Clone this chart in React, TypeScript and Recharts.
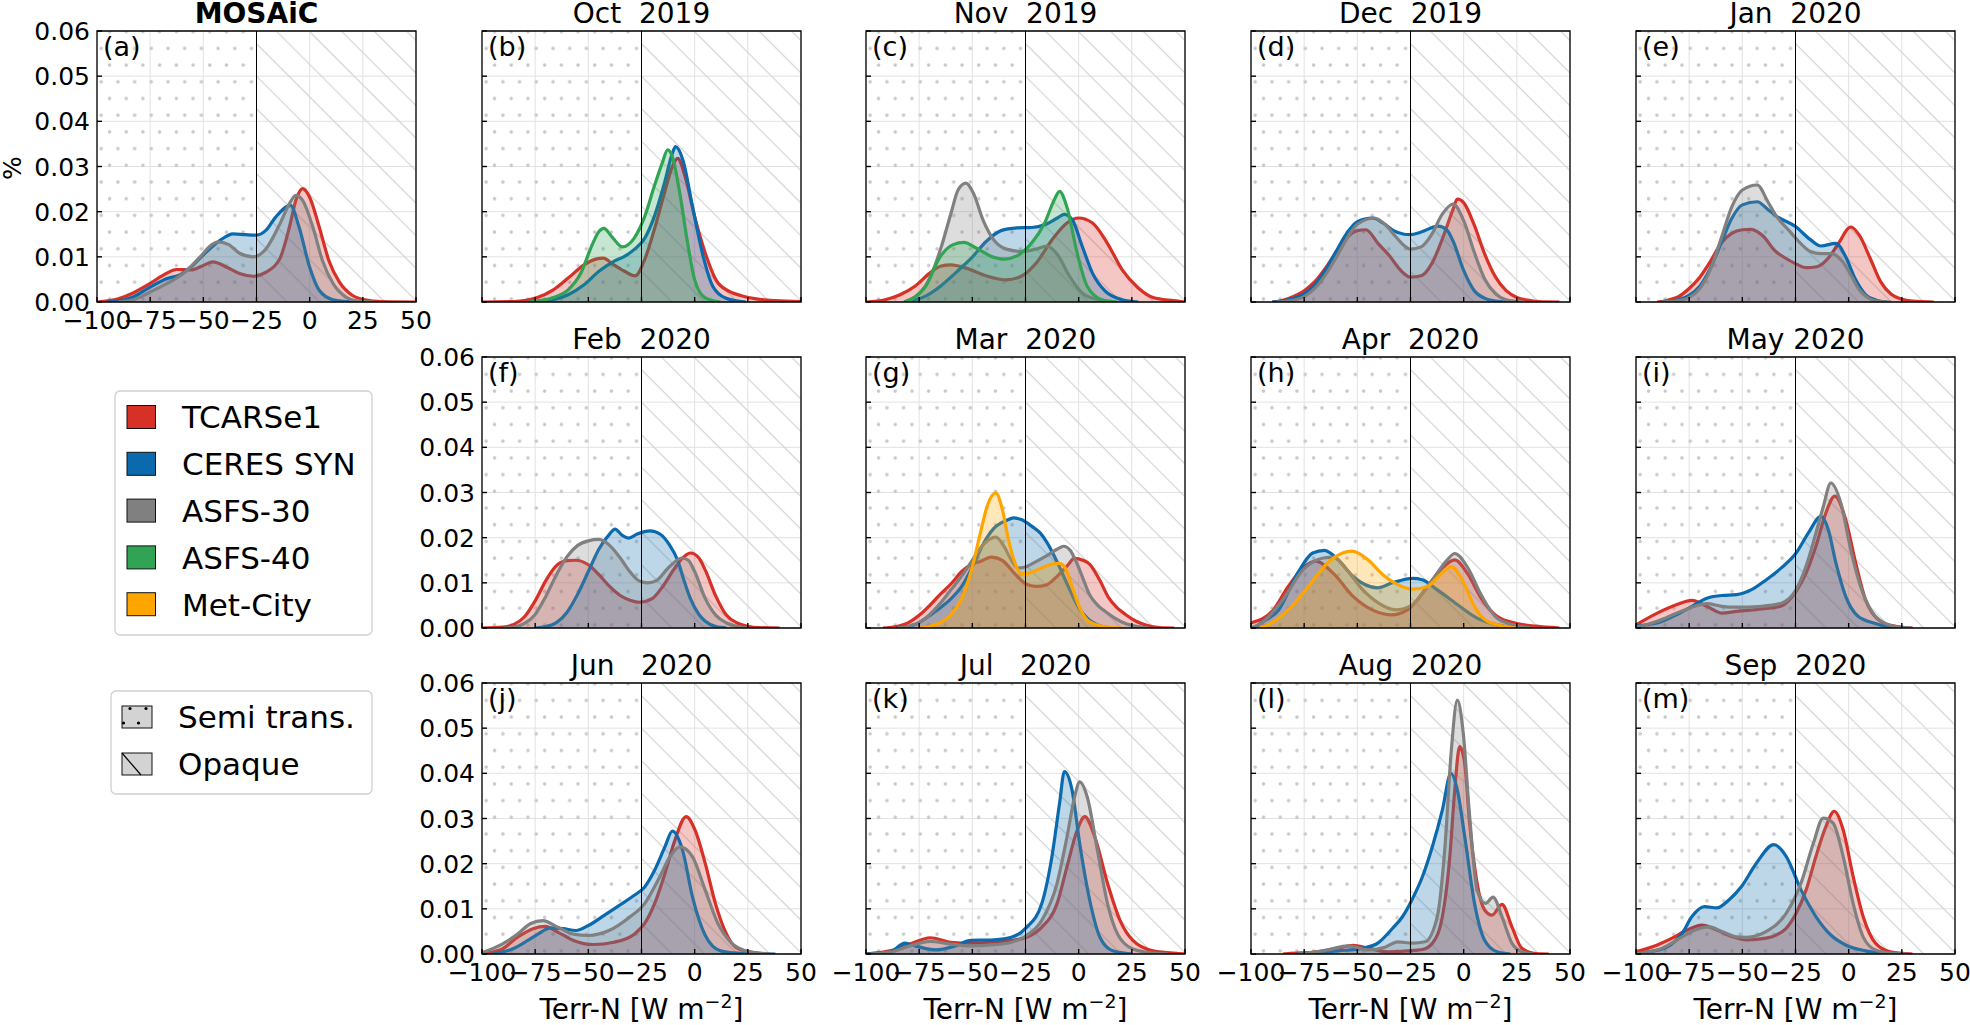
import React from 'react';
import { AreaChart, Area, XAxis, YAxis, CartesianGrid, ReferenceArea, ReferenceLine } from 'recharts';

type Pt = [number, number];

const FONT = "'DejaVu Sans', 'Liberation Sans', sans-serif";

const xTicks = [-100, -75, -50, -25, 0, 25, 50];
const yTicks = [0, 0.01, 0.02, 0.03, 0.04, 0.05, 0.06];

const sourceKeys = ['tcarse1', 'ceres', 'asfs30', 'asfs40', 'metcity'];
const sourceNames = ['TCARSe1', 'CERES SYN', 'ASFS-30', 'ASFS-40', 'Met-City'];
const sourceColors = ['#d73027', '#0a6aad', '#808080', '#31a354', '#ffa500'];
const surfaceNames = ['Semi trans.', 'Opaque'];

const panelLetters = ['a', 'b', 'c', 'd', 'e', 'f', 'g', 'h', 'i', 'j', 'k', 'l', 'm'];
const panelTitles = ['MOSAiC', 'Oct  2019', 'Nov  2019', 'Dec  2019', 'Jan  2020', 'Feb  2020', 'Mar  2020',
  'Apr  2020', 'May 2020', 'Jun   2020', 'Jul   2020', 'Aug  2020', 'Sep  2020'];

// density curves, [Terr-N, density]
const mosaicT: Pt[] = [[-100, 0], [-90, 0.0007], [-83, 0.002], [-75, 0.0041], [-69, 0.0059], [-62.5, 0.0072], [-56, 0.0071], [-50, 0.0081], [-45.5, 0.0089], [-39, 0.0077], [-33, 0.0063], [-26.5, 0.0057], [-20.5, 0.0066], [-14, 0.0096], [-9.5, 0.0166], [-6.5, 0.0225], [-3.3, 0.0251], [0, 0.0232], [4.5, 0.0166], [9, 0.0092], [14, 0.0044], [20, 0.0015], [26, 0.0005], [34, 0.0001], [50, 0]];
const mosaicC: Pt[] = [[-95, 0], [-90, 0.0002], [-83, 0.0011], [-75, 0.0033], [-67, 0.0052], [-61, 0.006], [-55, 0.0081], [-48.5, 0.0111], [-42, 0.0137], [-36, 0.0151], [-30, 0.0149], [-25, 0.0148], [-20.5, 0.0159], [-16, 0.0188], [-9, 0.0214], [-5, 0.0166], [0, 0.0077], [4.5, 0.0026], [11, 0.0005], [18, 0.0001], [25, 0]];
const mosaicA30: Pt[] = [[-90, 0], [-83, 0.0005], [-75, 0.0022], [-67, 0.0041], [-59.5, 0.0063], [-51.5, 0.01], [-46, 0.0127], [-43, 0.0133], [-38, 0.0127], [-33, 0.0108], [-26.5, 0.01], [-20.5, 0.0118], [-14, 0.0173], [-9.5, 0.0218], [-6.5, 0.0236], [-3.3, 0.0225], [1.5, 0.0166], [6, 0.0092], [11, 0.0041], [17, 0.0011], [23, 0.0002], [30, 0]];

const octT: Pt[] = [[-100, 0], [-85, 0.0001], [-74, 0.001], [-66.5, 0.0027], [-59.5, 0.0053], [-52, 0.0082], [-46.5, 0.0095], [-43, 0.0097], [-38, 0.0082], [-33, 0.0068], [-28, 0.0058], [-23.5, 0.0094], [-19, 0.016], [-14, 0.0245], [-10.5, 0.03], [-8, 0.0318], [-4.5, 0.0278], [0, 0.0189], [5, 0.0108], [10, 0.0049], [16, 0.0024], [22, 0.0014], [29, 0.0007], [38, 0.0003], [50, 0.0001]];
const octC: Pt[] = [[-78, 0], [-66.5, 0.0005], [-59.5, 0.0016], [-52, 0.0038], [-45, 0.0068], [-38, 0.009], [-33, 0.0101], [-28.5, 0.0116], [-23.5, 0.0141], [-19, 0.0189], [-14, 0.0267], [-10.5, 0.0329], [-9, 0.0344], [-5.5, 0.0314], [-1, 0.0211], [4, 0.0101], [8.5, 0.0035], [14.5, 0.0009], [24, 0]];
const octA40: Pt[] = [[-78, 0], [-66.5, 0.001], [-59.5, 0.0027], [-53.5, 0.0064], [-48.5, 0.0123], [-45, 0.0156], [-42.7, 0.0163], [-39, 0.0145], [-34, 0.0122], [-28.5, 0.0141], [-23.5, 0.0189], [-19, 0.0256], [-15.3, 0.0307], [-12.7, 0.0337], [-10.5, 0.0322], [-7, 0.0241], [-3.3, 0.013], [0, 0.0049], [5, 0.0009], [12, 0]];

const novT: Pt[] = [[-100, 0], [-91, 0.0005], [-84, 0.0016], [-77, 0.0035], [-70, 0.0064], [-65, 0.0079], [-60, 0.0082], [-53, 0.0075], [-43.5, 0.0058], [-34, 0.0049], [-27, 0.0057], [-20, 0.0086], [-12.5, 0.0138], [-5.5, 0.0175], [0, 0.0186], [6.5, 0.0175], [13.5, 0.013], [20.5, 0.0071], [28, 0.0031], [35, 0.001], [44.5, 0.0003], [50, 0]];
const novC: Pt[] = [[-82, 0], [-72, 0.0013], [-65, 0.0035], [-58, 0.0064], [-50.5, 0.0097], [-43.5, 0.0134], [-36.5, 0.0158], [-29, 0.0164], [-22, 0.0165], [-16, 0.0171], [-10, 0.0186], [-6.7, 0.0194], [-3, 0.0182], [1.7, 0.0123], [6.5, 0.0064], [12.5, 0.0024], [20.5, 0.0005], [28, 0]];
const novA30: Pt[] = [[-82, 0], [-72, 0.0035], [-65, 0.0116], [-60, 0.0197], [-56.7, 0.0248], [-53, 0.0263], [-49.5, 0.0241], [-45, 0.0182], [-40, 0.0138], [-34, 0.0117], [-27, 0.0112], [-20, 0.0117], [-15, 0.0124], [-10, 0.0105], [-4.3, 0.0057], [1.7, 0.002], [9, 0.0005], [15, 0]];
const novA40: Pt[] = [[-82, 0], [-72, 0.0035], [-65, 0.0101], [-59, 0.0127], [-54, 0.0132], [-48, 0.0119], [-41, 0.0101], [-35, 0.0095], [-28, 0.0105], [-22, 0.0131], [-16, 0.0175], [-11.5, 0.0226], [-9, 0.0245], [-5.5, 0.021], [-0.7, 0.0108], [4, 0.0035], [11, 0.0005], [18, 0]];

const decT: Pt[] = [[-90, 0], [-85, 0.0004], [-80, 0.0012], [-75, 0.0025], [-70, 0.0045], [-65, 0.0075], [-60, 0.011], [-55, 0.0142], [-50, 0.0158], [-46, 0.016], [-40, 0.0128], [-35, 0.0103], [-30, 0.0072], [-25, 0.0055], [-20, 0.0058], [-15, 0.0085], [-10, 0.014], [-5, 0.0205], [-3, 0.0228], [0, 0.022], [5, 0.017], [10, 0.0105], [15, 0.0055], [20, 0.0025], [25, 0.001], [30, 0.0004], [35, 0.0001], [45, 0]];
const decC: Pt[] = [[-90, 0], [-85, 0.0002], [-80, 0.0008], [-75, 0.0018], [-70, 0.0038], [-65, 0.007], [-60, 0.0112], [-55, 0.0152], [-50, 0.0178], [-43, 0.0186], [-38, 0.0175], [-33, 0.0158], [-28, 0.015], [-25, 0.0149], [-20, 0.0155], [-12, 0.0168], [-8, 0.016], [-5, 0.0135], [0, 0.007], [5, 0.0025], [10, 0.0008], [15, 0.0002], [20, 0]];
const decA30: Pt[] = [[-88, 0], [-80, 0.0004], [-75, 0.0012], [-70, 0.003], [-65, 0.006], [-60, 0.0098], [-55, 0.014], [-50, 0.0172], [-42, 0.0186], [-37, 0.0172], [-32, 0.0145], [-28, 0.0125], [-25, 0.0117], [-20, 0.0122], [-15, 0.015], [-10, 0.0195], [-5, 0.0217], [0, 0.018], [5, 0.011], [10, 0.005], [15, 0.0018], [20, 0.0005], [28, 0]];

const janT: Pt[] = [[-90, 0], [-85, 0.0004], [-80, 0.0012], [-75, 0.003], [-70, 0.0055], [-65, 0.009], [-60, 0.013], [-55, 0.0152], [-50, 0.016], [-46, 0.0161], [-40, 0.0145], [-35, 0.0115], [-30, 0.0098], [-25, 0.0085], [-20, 0.0076], [-15, 0.0078], [-10, 0.0095], [-5, 0.0128], [1, 0.0166], [5, 0.0148], [10, 0.0098], [15, 0.0045], [20, 0.0017], [25, 0.0006], [30, 0.0002], [40, 0]];
const janC: Pt[] = [[-88, 0], [-80, 0.0005], [-75, 0.0015], [-70, 0.0035], [-65, 0.0075], [-60, 0.013], [-55, 0.0185], [-50, 0.0215], [-43, 0.0222], [-38, 0.0205], [-34, 0.019], [-25, 0.0167], [-18, 0.0138], [-13, 0.0124], [-6, 0.013], [-1.5, 0.0101], [3, 0.0052], [8, 0.0016], [13, 0.0004], [18, 0]];
const janA30: Pt[] = [[-88, 0], [-80, 0.0003], [-75, 0.001], [-70, 0.003], [-65, 0.0072], [-60, 0.014], [-55, 0.021], [-50, 0.0248], [-43, 0.0259], [-38, 0.0222], [-34, 0.019], [-28, 0.0158], [-25, 0.0142], [-18, 0.0112], [-13, 0.0107], [-8, 0.0107], [-3, 0.009], [1, 0.006], [5, 0.0027], [10, 0.0007], [15, 0.0001], [20, 0]];

const febT: Pt[] = [[-100, 0], [-90, 0.0002], [-85, 0.0008], [-80, 0.0025], [-75, 0.006], [-70, 0.0105], [-65, 0.0138], [-60, 0.0149], [-56, 0.015], [-50, 0.014], [-45, 0.0118], [-40, 0.0092], [-35, 0.0072], [-30, 0.0061], [-26, 0.0057], [-20, 0.0065], [-15, 0.0092], [-10, 0.0128], [-5, 0.0158], [-2, 0.0166], [2, 0.0155], [5, 0.0128], [10, 0.007], [15, 0.0028], [20, 0.0011], [25, 0.0004], [30, 0.0001], [40, 0]];
const febC: Pt[] = [[-75, 0], [-70, 0.0003], [-65, 0.0012], [-60, 0.0035], [-55, 0.0075], [-50, 0.0125], [-45, 0.0175], [-40, 0.0208], [-37.5, 0.0219], [-34, 0.0205], [-31, 0.0199], [-27, 0.0208], [-21, 0.0215], [-16, 0.0207], [-12, 0.0185], [-8, 0.015], [-5, 0.0105], [-2, 0.0065], [2, 0.003], [5, 0.0015], [10, 0.0003], [15, 0]];
const febA30: Pt[] = [[-90, 0], [-85, 0.0002], [-80, 0.001], [-75, 0.003], [-70, 0.007], [-65, 0.0118], [-60, 0.0158], [-55, 0.0183], [-50, 0.0193], [-45, 0.0196], [-40, 0.0183], [-35, 0.0155], [-30, 0.0122], [-26, 0.0104], [-22, 0.01], [-18, 0.0105], [-12, 0.0135], [-6, 0.0155], [-3, 0.015], [0, 0.0125], [5, 0.0065], [10, 0.0028], [15, 0.0011], [20, 0.0003], [25, 0]];

const marT: Pt[] = [[-92, 0], [-85, 0.0004], [-80, 0.0012], [-75, 0.0028], [-70, 0.005], [-65, 0.0075], [-60, 0.0098], [-55, 0.0125], [-50, 0.0142], [-46, 0.0148], [-41, 0.0157], [-36, 0.015], [-30, 0.012], [-25, 0.0098], [-20, 0.0092], [-15, 0.0096], [-10, 0.0115], [-5, 0.014], [-2, 0.0154], [2, 0.015], [5, 0.0142], [10, 0.0105], [14, 0.0068], [18, 0.0045], [22, 0.003], [27, 0.0015], [32, 0.0006], [38, 0.0001], [45, 0]];
const marC: Pt[] = [[-85, 0], [-80, 0.0003], [-75, 0.0012], [-70, 0.0028], [-65, 0.0045], [-60, 0.0065], [-55, 0.0092], [-50, 0.0135], [-45, 0.0185], [-40, 0.022], [-34, 0.0238], [-30.5, 0.0244], [-27, 0.024], [-22, 0.0225], [-18, 0.021], [-15, 0.019], [-10, 0.0145], [-5, 0.0093], [0, 0.0045], [4, 0.0022], [10, 0.0005], [15, 0]];
const marA30: Pt[] = [[-85, 0], [-80, 0.0004], [-75, 0.0012], [-70, 0.003], [-65, 0.0055], [-60, 0.0085], [-55, 0.0115], [-50, 0.015], [-46, 0.0178], [-42, 0.0196], [-39, 0.0201], [-35, 0.018], [-32, 0.0153], [-28.5, 0.0133], [-25, 0.0135], [-22, 0.0142], [-15, 0.016], [-10, 0.0175], [-7, 0.0181], [-4, 0.0172], [-1, 0.0145], [2, 0.011], [5, 0.0075], [9, 0.005], [13, 0.0035], [17, 0.0022], [22, 0.001], [28, 0.0003], [33, 0]];
const marMet: Pt[] = [[-75, 0], [-70, 0.0004], [-65, 0.0012], [-60, 0.003], [-55, 0.0065], [-50, 0.0135], [-46, 0.0215], [-43, 0.027], [-39, 0.0299], [-36, 0.0265], [-33, 0.0195], [-30, 0.0145], [-27, 0.012], [-23, 0.0122], [-18, 0.0132], [-12, 0.0142], [-9, 0.0143], [-6, 0.013], [-3, 0.009], [0, 0.005], [4, 0.0018], [10, 0.0005], [15, 0.0001], [20, 0]];

const aprT: Pt[] = [[-100, 0.0011], [-89.5, 0.004], [-82.5, 0.0092], [-75.5, 0.0133], [-69.5, 0.0148], [-61.5, 0.0122], [-52, 0.007], [-43, 0.004], [-34, 0.0029], [-26.5, 0.004], [-17, 0.0092], [-10, 0.0133], [-4.2, 0.0151], [1.6, 0.0122], [8.6, 0.0063], [15.7, 0.0026], [25, 0.001], [34, 0.0004], [45, 0]];
const aprC: Pt[] = [[-98, 0], [-96.5, 0.0007], [-87, 0.004], [-78, 0.0122], [-71, 0.0166], [-65.5, 0.0172], [-59, 0.0151], [-52, 0.0114], [-40.5, 0.0089], [-33.5, 0.01], [-24, 0.011], [-19.5, 0.0107], [-12.5, 0.0085], [-3, 0.0052], [6.3, 0.0022], [15.7, 0.0007], [25, 0]];
const aprA30: Pt[] = [[-100, 0], [-94, 0.0015], [-85, 0.0063], [-75.5, 0.0129], [-66, 0.0155], [-61, 0.0157], [-56, 0.0135], [-47.5, 0.0085], [-40, 0.0055], [-32, 0.004], [-24, 0.0052], [-14.7, 0.0107], [-7.7, 0.0151], [-4.2, 0.0165], [1.6, 0.0136], [8.6, 0.007], [15.7, 0.0022], [25, 0.0005], [32, 0]];
const aprMet: Pt[] = [[-96, 0], [-92, 0.0007], [-82.5, 0.004], [-73, 0.0092], [-64, 0.0144], [-57, 0.0166], [-52.5, 0.017], [-45, 0.0151], [-38, 0.0118], [-31, 0.0096], [-24, 0.0086], [-17, 0.0092], [-11, 0.0118], [-5.8, 0.0136], [-0.7, 0.0107], [5, 0.0048], [11, 0.0015], [18, 0.0005], [25, 0]];

const mayT: Pt[] = [[-100, 0.0007], [-90, 0.0033], [-80.7, 0.0052], [-73.7, 0.0061], [-66.7, 0.0048], [-59.7, 0.0033], [-52.7, 0.0037], [-41, 0.0042], [-31.7, 0.0049], [-24.7, 0.0081], [-20, 0.0122], [-15.4, 0.0181], [-10.7, 0.0255], [-6.5, 0.0292], [-1.4, 0.024], [3.3, 0.0144], [7.9, 0.0063], [14.9, 0.0015], [22, 0.0004], [30, 0]];
const mayC: Pt[] = [[-100, 0.0005], [-90, 0.0011], [-80.7, 0.003], [-73.7, 0.0048], [-66.7, 0.0066], [-59.7, 0.0072], [-52.7, 0.0074], [-45.7, 0.0085], [-38.7, 0.0107], [-31.7, 0.0133], [-24.7, 0.0166], [-19, 0.021], [-13, 0.0247], [-9.6, 0.0218], [-6, 0.0144], [-1.4, 0.007], [4.4, 0.0026], [12.6, 0.001], [18, 0.0003], [25, 0]];
const mayA30: Pt[] = [[-100, 0.0002], [-90, 0.0015], [-80.7, 0.0033], [-73.7, 0.0046], [-66.7, 0.0054], [-59.7, 0.0048], [-52.7, 0.0046], [-41, 0.0048], [-31.7, 0.0055], [-24.7, 0.0085], [-20, 0.0137], [-15.4, 0.021], [-11.9, 0.0269], [-8.4, 0.0321], [-3.7, 0.0277], [1, 0.0173], [5.6, 0.0092], [11.4, 0.0033], [17.2, 0.001], [24, 0.0002], [30, 0]];

const junT: Pt[] = [[-100, 0], [-97.5, 0.0002], [-90.5, 0.0011], [-83.3, 0.0037], [-76, 0.0056], [-70.2, 0.0061], [-64.2, 0.0048], [-57, 0.003], [-47.5, 0.0021], [-38, 0.0026], [-28.4, 0.0044], [-23.6, 0.0067], [-18.9, 0.0111], [-14, 0.0178], [-9.3, 0.0252], [-4, 0.0304], [0.2, 0.0274], [5, 0.02], [9.8, 0.0111], [14.6, 0.0048], [19.3, 0.0015], [26.5, 0.0004], [35, 0]];
const junC: Pt[] = [[-95, 0], [-92.8, 0.0002], [-85.7, 0.0011], [-78.5, 0.003], [-73.7, 0.0044], [-67.8, 0.0058], [-61.8, 0.0056], [-55.8, 0.0052], [-50, 0.0063], [-42.7, 0.0085], [-35.6, 0.0107], [-28.4, 0.013], [-23.6, 0.0148], [-18.9, 0.0185], [-14, 0.0237], [-10.5, 0.0272], [-5.7, 0.023], [-1, 0.0126], [5, 0.0041], [12.2, 0.0007], [20, 0.0002], [38, 0]];
const junA30: Pt[] = [[-100, 0.0003], [-90.5, 0.0022], [-83.3, 0.0044], [-77.3, 0.0067], [-71.4, 0.0074], [-64.2, 0.0059], [-57, 0.0044], [-50, 0.0041], [-40.3, 0.0052], [-30.8, 0.0081], [-23.6, 0.0111], [-16.5, 0.017], [-11.7, 0.0215], [-6.9, 0.0237], [-1, 0.0215], [5, 0.0141], [11, 0.0067], [17, 0.0026], [24, 0.0007], [30, 0.0002], [35, 0]];

const julT: Pt[] = [[-100, 0], [-98, 0.0001], [-88.8, 0.0007], [-79.3, 0.0022], [-69.8, 0.0036], [-60.2, 0.0026], [-50.7, 0.0024], [-41.2, 0.0026], [-31.7, 0.003], [-24.5, 0.0037], [-17.4, 0.0059], [-10.2, 0.0111], [-5.5, 0.0193], [-0.7, 0.0274], [2.9, 0.0304], [7.6, 0.0259], [13.6, 0.0156], [19.5, 0.0074], [25.5, 0.003], [35, 0.0007], [47, 0.0001], [50, 0]];
const julC: Pt[] = [[-100, 0], [-88.8, 0.0004], [-81.7, 0.0024], [-76.9, 0.0018], [-67.4, 0.0009], [-57.9, 0.0018], [-50.7, 0.003], [-41.2, 0.0031], [-31.7, 0.0037], [-24.5, 0.0059], [-17.4, 0.0111], [-12.6, 0.0215], [-9, 0.0333], [-6.7, 0.0404], [-3.1, 0.0363], [0.5, 0.0244], [5.2, 0.0119], [10, 0.0037], [16, 0.0007], [25, 0]];
const julA30: Pt[] = [[-98, 0], [-88.8, 0.0004], [-79.3, 0.0018], [-69.8, 0.0028], [-60.2, 0.0022], [-50.7, 0.0018], [-41.2, 0.002], [-31.7, 0.0026], [-24.5, 0.0041], [-17.4, 0.0074], [-10.2, 0.0156], [-5.5, 0.0259], [-1.9, 0.0348], [0.5, 0.0381], [4, 0.0348], [8.8, 0.023], [13.6, 0.0111], [18.3, 0.0044], [25.5, 0.0011], [35, 0.0002], [42, 0]];

const augT: Pt[] = [[-85, 0], [-82.5, 0.0001], [-68.5, 0.0005], [-59, 0.0013], [-52, 0.0019], [-45, 0.0013], [-35.7, 0.0005], [-26.4, 0.0007], [-19.4, 0.001], [-14.7, 0.0024], [-10, 0.0083], [-6.5, 0.0216], [-4.2, 0.0363], [-1.9, 0.0459], [0.5, 0.0422], [2.8, 0.029], [6.3, 0.0157], [9.8, 0.0098], [13.3, 0.0086], [18, 0.011], [22.7, 0.006], [27.3, 0.0013], [34, 0.0001], [40, 0]];
const augC: Pt[] = [[-78, 0], [-75.5, 0.0001], [-59, 0.0007], [-47.4, 0.0013], [-40.4, 0.0024], [-33.4, 0.0057], [-28.7, 0.0083], [-24, 0.0123], [-19.4, 0.0171], [-14.7, 0.0238], [-10, 0.0319], [-6, 0.04], [-3, 0.0364], [0.5, 0.026], [5.1, 0.0112], [9.8, 0.0031], [15.7, 0.0005], [22, 0]];
const augA30: Pt[] = [[-78, 0], [-75.5, 0.0001], [-63.8, 0.0009], [-54.4, 0.0018], [-45, 0.0009], [-37, 0.0015], [-31, 0.0027], [-24, 0.0024], [-18.2, 0.0027], [-12.4, 0.0083], [-8.9, 0.0231], [-5.8, 0.0451], [-3, 0.0562], [-0.2, 0.0489], [2.8, 0.0305], [6.3, 0.0142], [10.3, 0.0112], [13.8, 0.0126], [18, 0.0083], [22.7, 0.0024], [27.3, 0.0005], [33, 0]];

const sepT: Pt[] = [[-100, 0.0005], [-90, 0.002], [-83, 0.0035], [-76, 0.0053], [-69, 0.0064], [-62, 0.0053], [-55, 0.0039], [-48, 0.0031], [-38.7, 0.0035], [-29.4, 0.0057], [-24.7, 0.009], [-20, 0.0142], [-15.4, 0.0216], [-10.7, 0.0282], [-6.8, 0.0316], [-2.6, 0.0275], [2.1, 0.0172], [6.8, 0.0083], [12.6, 0.0024], [19.6, 0.0005], [30, 0]];
const sepC: Pt[] = [[-100, 0], [-94.6, 0.0004], [-85.3, 0.0016], [-78.3, 0.0046], [-73.7, 0.0083], [-67.8, 0.0105], [-62, 0.0102], [-56.2, 0.012], [-50.3, 0.015], [-43.4, 0.0201], [-35.2, 0.0242], [-29.4, 0.0216], [-22.4, 0.0142], [-15.4, 0.0083], [-8.4, 0.0042], [-1.4, 0.002], [7.9, 0.0007], [17, 0.0001], [25, 0]];
const sepA30: Pt[] = [[-100, 0.0001], [-87.6, 0.0013], [-78.3, 0.0038], [-71.3, 0.0055], [-65.5, 0.006], [-59.7, 0.005], [-52.7, 0.0038], [-48, 0.0037], [-38.7, 0.005], [-29.4, 0.009], [-22.4, 0.0157], [-16.6, 0.0245], [-12, 0.0301], [-7.3, 0.029], [-2.6, 0.0216], [2.1, 0.0112], [6.8, 0.0038], [12.6, 0.0009], [20, 0.0002], [28, 0]];

// per panel: [TCARSe1, CERES SYN, ASFS-30, ASFS-40, Met-City]
const panelSeries: (Pt[] | null)[][] = [
  [mosaicT, mosaicC, mosaicA30, null, null],
  [octT, octC, null, octA40, null],
  [novT, novC, novA30, novA40, null],
  [decT, decC, decA30, null, null],
  [janT, janC, janA30, null, null],
  [febT, febC, febA30, null, null],
  [marT, marC, marA30, null, marMet],
  [aprT, aprC, aprA30, null, aprMet],
  [mayT, mayC, mayA30, null, null],
  [junT, junC, junA30, null, null],
  [julT, julC, julA30, null, null],
  [augT, augC, augA30, null, null],
  [sepT, sepC, sepA30, null, null],
];

// layout
const PW = 319;
const PH = 271;
const colLeft = [97, 482, 866, 1251, 1636];
const rowTop = [31, 357, 683];
const panelPos = [[0, 0], [1, 0], [2, 0], [3, 0], [4, 0], [1, 1], [2, 1], [3, 1], [4, 1], [1, 2], [2, 2], [3, 2], [4, 2]];
const xLabelPanels = [0, 9, 10, 11, 12];
const yLabelPanels = [0, 5, 9];
const YW = 100;
const XH = 45;
const MT = 20;
const MR = 25;

const fmtX = (v: number) => (v < 0 ? `\u2212${Math.abs(v)}` : `${v}`);

function buildRows(series: (Pt[] | null)[]) {
  const xs = new Set<number>();
  series.forEach((s) => s && s.forEach((p) => xs.add(p[0])));
  const sorted = Array.from(xs).sort((a, b) => a - b);
  return sorted.map((x) => {
    const row: any = { x };
    series.forEach((s, i) => {
      if (!s) return;
      const hit = s.find((p) => p[0] === x);
      if (hit) row[sourceKeys[i]] = hit[1];
    });
    return row;
  });
}

const XTick = (props: any) => {
  const { x, y, payload, show } = props;
  return (
    <g>
      <line x1={x} x2={x} y1={y} y2={y - 5} stroke="#000" strokeWidth={1.4} />
      {show && (
        <text x={x} y={y + 27} textAnchor="middle" fontSize={25} fontFamily={FONT} fill="#000">
          {fmtX(payload.value)}
        </text>
      )}
    </g>
  );
};

const YTick = (props: any) => {
  const { x, y, payload, show } = props;
  return (
    <g>
      <line x1={x} x2={x + 5} y1={y} y2={y} stroke="#000" strokeWidth={1.4} />
      {show && (
        <text x={x - 7} y={y + 9} textAnchor="end" fontSize={25} fontFamily={FONT} fill="#000">
          {payload.value.toFixed(2)}
        </text>
      )}
    </g>
  );
};

function Panel({ idx }: { idx: number }) {
  const series = panelSeries[idx];
  const rows = buildRows(series);
  const [col, row] = panelPos[idx];
  const id = panelLetters[idx];
  const showX = xLabelPanels.includes(idx);
  const showY = yLabelPanels.includes(idx);
  return (
    <div style={{ position: 'absolute', left: colLeft[col] - YW, top: rowTop[row] - MT }}>
      <AreaChart width={YW + PW + MR} height={MT + PH + XH} data={rows} margin={{ top: MT, right: MR, bottom: 0, left: 0 }}>
        <defs>
          <pattern id={`dots-${id}`} patternUnits="userSpaceOnUse" width={16.7} height={33.4}>
            <circle cx={4} cy={4} r={1.8} fill="#c8c8c8" />
            <circle cx={12.35} cy={20.7} r={1.8} fill="#c8c8c8" />
          </pattern>
          <pattern id={`hatch-${id}`} patternUnits="userSpaceOnUse" width={12} height={23} patternTransform="rotate(45)">
            <line x1={0} y1={0.6} x2={12} y2={0.6} stroke="#d4d4d4" strokeWidth={1.2} />
          </pattern>
        </defs>
        <ReferenceArea x1={-100} x2={-25} y1={0} y2={0.06} fill={`url(#dots-${id})`} fillOpacity={1} stroke="none" zIndex={-50} />
        <ReferenceArea x1={-25} x2={50} y1={0} y2={0.06} fill={`url(#hatch-${id})`} fillOpacity={1} stroke="none" zIndex={-50} />
        <CartesianGrid stroke="#e2e2e2" strokeWidth={1} />
        <XAxis
          type="number"
          dataKey="x"
          domain={[-100, 50]}
          ticks={xTicks}
          interval={0}
          allowDataOverflow
          height={XH}
          axisLine={false}
          tickLine={false}
          tickSize={0}
          tickMargin={0}
          tick={(p: any) => <XTick {...p} show={showX} />}
        />
        <YAxis
          type="number"
          domain={[0, 0.06]}
          ticks={yTicks}
          interval={0}
          allowDataOverflow
          width={YW}
          axisLine={false}
          tickLine={false}
          tickSize={0}
          tickMargin={0}
          tick={(p: any) => <YTick {...p} show={showY} />}
        />
        <ReferenceLine x={-25} stroke="#000" strokeWidth={1} />
        {series.map((s, i) =>
          s ? (
            <Area
              key={sourceKeys[i]}
              type="monotone"
              dataKey={sourceKeys[i]}
              stroke={sourceColors[i]}
              strokeWidth={3.2}
              fill={sourceColors[i]}
              fillOpacity={0.27}
              connectNulls
              dot={false}
              activeDot={false}
              isAnimationActive={false}
            />
          ) : null
        )}
        <ReferenceArea x1={-100} x2={50} y1={0} y2={0.06} fill="none" fillOpacity={0} stroke="#000" strokeWidth={1.3} zIndex={900} />
      </AreaChart>
    </div>
  );
}

function Overlay() {
  return (
    <svg width={1970} height={1025} style={{ position: 'absolute', left: 0, top: 0, pointerEvents: 'none' }} fontFamily={FONT}>
      {panelTitles.map((t, i) => {
        const [col, row] = panelPos[i];
        const cx = colLeft[col] + PW / 2;
        const base = rowTop[row] - 8;
        return (
          <text key={`t${i}`} x={cx} y={base} textAnchor="middle" fontSize={28} fontWeight={i === 0 ? 'bold' : 'normal'} style={{ whiteSpace: 'pre' }}>
            {t}
          </text>
        );
      })}
      {panelLetters.map((l, i) => {
        const [col, row] = panelPos[i];
        return (
          <text key={`l${i}`} x={colLeft[col] + 6} y={rowTop[row] + 25} fontSize={27}>
            ({l})
          </text>
        );
      })}
      <text transform="translate(21,168) rotate(-90)" textAnchor="middle" fontSize={25}>%</text>
      {[9, 10, 11, 12].map((i) => {
        const [col] = panelPos[i];
        return (
          <text key={`x${i}`} x={colLeft[col] + PW / 2} y={1019} textAnchor="middle" fontSize={28}>
            Terr-N [W m<tspan dy={-11} fontSize={19}>{'\u22122'}</tspan><tspan dy={11}>]</tspan>
          </text>
        );
      })}
      {/* source legend */}
      <rect x={115} y={391} width={257} height={244} rx={5} fill="#fff" stroke="#d0d0d0" strokeWidth={1.3} />
      {sourceNames.map((n, i) => {
        const cy = 417 + i * 46.8;
        return (
          <g key={n}>
            <rect x={127} y={cy - 11.5} width={28.5} height={23} fill={sourceColors[i]} stroke="#111" strokeWidth={1} />
            <text x={182} y={cy + 11.3} fontSize={31}>{n}</text>
          </g>
        );
      })}
      {/* surface legend */}
      <rect x={111} y={691} width={261} height={103} rx={5} fill="#fff" stroke="#d0d0d0" strokeWidth={1.3} />
      <rect x={122} y={706} width={30} height={22} fill="#d3d3d3" stroke="#111" strokeWidth={1} />
      <circle cx={130} cy={708.5} r={1.6} fill="#000" />
      <circle cx={146} cy={708.5} r={1.6} fill="#000" />
      <circle cx={138.5} cy={723} r={1.6} fill="#000" />
      <circle cx={123.5} cy={723} r={1.6} fill="#000" />
      <text x={178} y={728} fontSize={31}>{surfaceNames[0]}</text>
      <rect x={122} y={753} width={30} height={22} fill="#d3d3d3" stroke="#111" strokeWidth={1} />
      <line x1={122} y1={753} x2={141} y2={775} stroke="#000" strokeWidth={1.2} />
      <text x={178} y={775} fontSize={31}>{surfaceNames[1]}</text>
    </svg>
  );
}

export default function App() {
  return (
    <div style={{ position: 'absolute', left: 0, top: 0, width: 1970, height: 1025, background: '#fff', fontFamily: FONT }}>
      {panelSeries.map((_, i) => (
        <Panel key={i} idx={i} />
      ))}
      <Overlay />
    </div>
  );
}
